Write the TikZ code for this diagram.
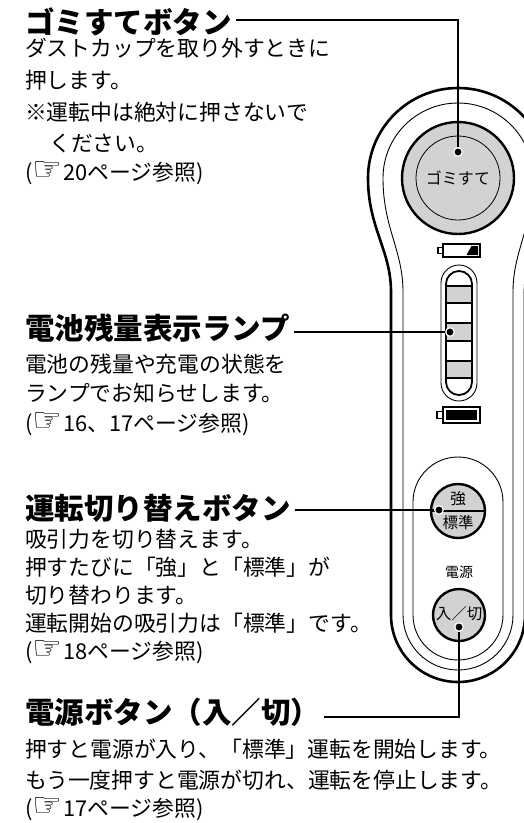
\documentclass[tikz,border=0pt]{standalone}
\usepackage{fontspec}
\newfontfamily\jpfont{Noto Sans CJK JP}
\newfontfamily\handfont{DejaVu Sans}
\newcommand{\hand}{\raisebox{0pt}[\height][0pt]{\resizebox{30pt}{!}{\handfont ☞}}\kern1pt}
\definecolor{lampgray}{RGB}{210,210,210}
\tikzset{
  heading/.style={anchor=base west, inner sep=0pt, font=\jpfont\bfseries\fontsize{29.5}{31}\selectfont},
  body/.style={anchor=base west, inner sep=0pt, font=\jpfont\fontsize{21.8}{26}\selectfont},
  btntext/.style={inner sep=0pt, font=\jpfont\fontsize{15.5}{17}\selectfont},
  leader/.style={line width=2pt},
  dot/.style={circle, fill=black, draw=white, line width=1.2pt, inner sep=0pt, minimum size=8.5pt},
  shell/.style={line width=2.6pt},
  rim/.style={line width=0.9pt},
  button/.style={circle, draw, line width=2.4pt, fill=lampgray, inner sep=0pt},
  cell/.style={line width=1.3pt}
}
\begin{document}
\begin{tikzpicture}[x=1pt,y=-1pt]
\useasboundingbox (0,0) rectangle (524,823);
\clip (0,0) rectangle (524,823);

% handle of the cleaner
\draw[shell] (391,615) -- (391,292) .. controls (391,250) and (368,228) .. (368,178)
  arc[start angle=180,end angle=360,radius=90]
  .. controls (548,228) and (525,250) .. (525,292) -- (525,615)
  arc[start angle=0,end angle=180,radius=67] -- cycle;
\draw[rim] (403,615) -- (403,292) .. controls (403,250) and (383,228) .. (383,178)
  arc[start angle=180,end angle=360,radius=75]
  .. controls (533,228) and (513,250) .. (513,292) -- (513,615)
  arc[start angle=0,end angle=180,radius=55] -- cycle;
\draw[rim] (413,615) -- (413,502) arc[start angle=180,end angle=360,radius=45]
  -- (503,615) arc[start angle=0,end angle=180,radius=45] -- cycle;

% dust button
\node[button, minimum size=112pt] (gomibtn) at (458,178) {};
\node[circle, draw, line width=0.8pt, minimum size=84pt, inner sep=0pt,
  font=\jpfont\fontsize{16}{18}\selectfont] (gomilabel) at (gomibtn) {ゴミすて};

% battery gauge
\draw[cell] (443,244) rectangle (480,257);
\draw[cell] (443,247.5) -- (438,247.5) -- (438,253.5) -- (443,253.5);
\fill (466.5,255) -- (471.5,246) -- (478,246) -- (478,255) -- cycle;

\draw[rim, rounded corners=18pt] (441,265) rectangle (477,401);
\fill[lampgray] (446,286) rectangle (472,303);
\fill[lampgray] (446,323) rectangle (472,341);
\fill[lampgray] (446,361) rectangle (472,378);
\draw[line width=1.8pt, rounded corners=13pt] (446,271) rectangle (472,395);
\draw[line width=1.8pt] (446,286) -- (472,286) (446,303) -- (472,303)
  (446,323) -- (472,323) (446,341) -- (472,341)
  (446,361) -- (472,361) (446,378) -- (472,378);

\draw[cell] (443,407) rectangle (480,423);
\draw[cell] (443,411.5) -- (437,411.5) -- (437,418.5) -- (443,418.5);
\fill (446,410) rectangle (477,420);

% mode and power buttons
\node[button, minimum size=54pt] (modebtn) at (458,511) {};
\draw[line width=1.6pt] (modebtn.west) -- (modebtn.east);
\node[btntext] (strong) at (458,499) {強};
\node[btntext] (normal) at (458,523) {標準};
\node[btntext, font=\jpfont\fontsize{14}{16}\selectfont] (powername) at (459,572) {電源};
\node[button, minimum size=52pt] (powerbtn) at (459,615) {};
\node[btntext] (onoff) at (459,614) {入／切};

% texts
\node[heading] (gomihead) at (25,33) {ゴミすてボタン};
\node[body] (gomi1) at (25,56) {ダストカップを取り外すときに};
\node[body] (gomi2) at (25,88) {押します。};
\node[body] (gomi3) at (25,120) {※運転中は絶対に押さないで};
\node[body] (gomi4) at (49,151) {ください。};
\node[body] (gomi5) at (25,180) {(\hand 20ページ参照)};

\node[heading] (lamphead) at (25,339) {電池残量表示ランプ};
\node[body] (lamp1) at (25,372) {電池の残量や充電の状態を};
\node[body] (lamp2) at (25,401) {ランプでお知らせします。};
\node[body] (lamp3) at (25,431) {(\hand 16、17ページ参照)};

\node[heading] (modehead) at (25,519) {運転切り替えボタン};
\node[body] (mode1) at (25,547) {吸引力を切り替えます。};
\node[body] (mode2) at (25,575) {押すたびに「強」と「標準」が};
\node[body] (mode3) at (25,603) {切り替わります。};
\node[body] (mode4) at (25,631) {運転開始の吸引力は「標準」です。};
\node[body] (mode5) at (25,659) {(\hand 18ページ参照)};

\node[heading] (powerhead) at (25,723) {電源ボタン（入／切）};
\node[body] (power1) at (25,757) {押すと電源が入り、「標準」運転を開始します。};
\node[body] (power2) at (25,788) {もう一度押すと電源が切れ、運転を停止します。};
\node[body] (power3) at (25,816) {(\hand 17ページ参照)};

% leaders
\node[dot] (gomidot) at (458,152) {};
\node[dot] (lampdot) at (450,332) {};
\node[dot] (modedot) at (439,510) {};
\node[dot] (powerdot) at (459,627) {};
\draw[leader] ([xshift=4pt]gomihead.east |- 0,20) -| (gomidot);
\draw[leader] ([xshift=4pt]lamphead.east |- lampdot) -- (lampdot);
\draw[leader] ([xshift=4pt]modehead.east |- modedot) -- (modedot);
\draw[leader] ([xshift=4pt]powerhead.east |- 0,717) -| (powerdot);
\end{tikzpicture}
\end{document}
